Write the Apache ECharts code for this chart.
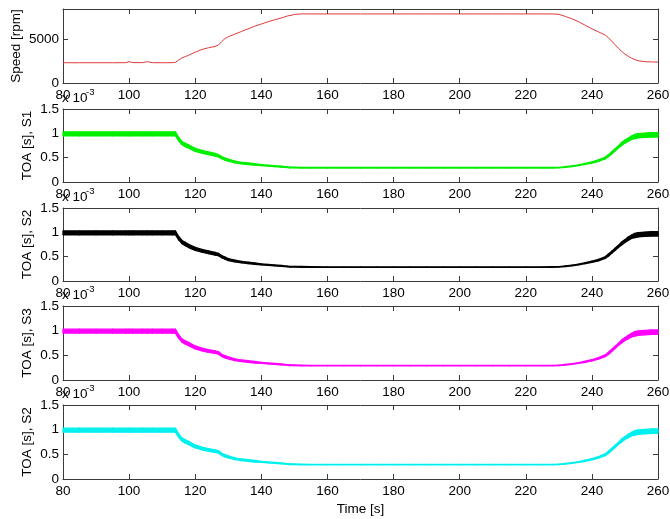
<!DOCTYPE html>
<html>
<head>
<meta charset="utf-8">
<title>Speed and TOA</title>
<script src="https://cdn.jsdelivr.net/npm/echarts@6/dist/echarts.min.js"></script>
<style>
  html, body { margin: 0; padding: 0; background: #fff; }
  #chart { width: 670px; height: 519px; }
</style>
</head>
<body>
<div id="chart"></div>
<script>
// Sample times [s]
const time = [80, 85, 90, 95, 99, 100, 101, 104, 105.5, 107, 110, 113, 114, 115, 116, 117, 118, 120, 122, 124,
  126, 127, 128, 129, 130, 132, 134, 136, 138, 140, 142, 144, 146, 148, 148.5, 149, 150, 152, 155, 160,
  165, 170, 175, 180, 185, 190, 195, 200, 205, 210, 215, 220, 225, 228, 230, 232, 234, 236, 238, 240,
  242, 244, 245, 246, 247, 248, 249, 250, 251, 252, 253, 254, 256, 258, 260];

// Rotor speed [rpm]
const speedRpm = [2300, 2300, 2300, 2300, 2310, 2420, 2320, 2310, 2420, 2310, 2300, 2310, 2350, 2600, 2850, 3000, 3150, 3500, 3800, 4000,
  4150, 4300, 4700, 5050, 5250, 5550, 5850, 6150, 6450, 6700, 6950, 7170, 7380, 7620, 7800, 7680, 7780, 7840, 7840, 7840,
  7840, 7840, 7840, 7840, 7840, 7840, 7840, 7840, 7840, 7840, 7840, 7840, 7840, 7840, 7800, 7550, 7280, 6950, 6550, 6150,
  5800, 5450, 5150, 4750, 4350, 3950, 3600, 3280, 3030, 2820, 2650, 2530, 2420, 2390, 2380];

// Time of arrival per sensor [x 10^-3 s]
const toaS1 = [0.99, 0.99, 0.99, 0.99, 0.99, 0.99, 0.99, 0.99, 0.99, 0.99, 0.99, 0.99, 0.99, 0.88, 0.80, 0.76, 0.73, 0.66, 0.62, 0.59,
  0.56, 0.54, 0.50, 0.47, 0.45, 0.41, 0.39, 0.375, 0.36, 0.345, 0.335, 0.325, 0.315, 0.305, 0.30, 0.30, 0.298, 0.295, 0.293, 0.293,
  0.293, 0.293, 0.293, 0.293, 0.293, 0.293, 0.293, 0.293, 0.293, 0.293, 0.293, 0.293, 0.293, 0.293, 0.296, 0.31, 0.325, 0.345, 0.37, 0.40,
  0.44, 0.49, 0.54, 0.60, 0.66, 0.72, 0.78, 0.83, 0.87, 0.91, 0.935, 0.95, 0.96, 0.97, 0.97];
const toaS2 = [0.99, 0.99, 0.99, 0.99, 0.99, 0.99, 0.99, 0.99, 0.99, 0.99, 0.99, 0.99, 0.99, 0.88, 0.80, 0.76, 0.72, 0.66, 0.62, 0.59,
  0.56, 0.545, 0.50, 0.47, 0.44, 0.41, 0.39, 0.37, 0.355, 0.34, 0.33, 0.32, 0.31, 0.30, 0.295, 0.295, 0.293, 0.29, 0.288, 0.287,
  0.287, 0.287, 0.287, 0.287, 0.287, 0.287, 0.287, 0.287, 0.287, 0.287, 0.287, 0.287, 0.287, 0.288, 0.292, 0.305, 0.32, 0.34, 0.365, 0.395,
  0.43, 0.48, 0.53, 0.59, 0.65, 0.71, 0.77, 0.82, 0.87, 0.91, 0.935, 0.95, 0.96, 0.97, 0.97];
const toaS3 = [0.99, 0.99, 0.99, 0.99, 0.99, 0.99, 0.99, 0.99, 0.99, 0.99, 0.99, 0.99, 0.99, 0.88, 0.80, 0.76, 0.73, 0.66, 0.62, 0.59,
  0.565, 0.55, 0.50, 0.47, 0.45, 0.41, 0.39, 0.375, 0.36, 0.345, 0.335, 0.325, 0.315, 0.305, 0.30, 0.30, 0.298, 0.295, 0.293, 0.293,
  0.293, 0.293, 0.293, 0.293, 0.293, 0.293, 0.293, 0.293, 0.293, 0.293, 0.293, 0.293, 0.293, 0.293, 0.296, 0.31, 0.325, 0.345, 0.37, 0.40,
  0.44, 0.49, 0.54, 0.60, 0.66, 0.72, 0.78, 0.83, 0.87, 0.91, 0.935, 0.95, 0.96, 0.97, 0.97];
const toaS2b = [0.99, 0.99, 0.99, 0.99, 0.99, 0.99, 0.99, 0.99, 0.99, 0.99, 0.99, 0.99, 0.99, 0.88, 0.80, 0.76, 0.73, 0.66, 0.62, 0.59,
  0.565, 0.55, 0.50, 0.47, 0.45, 0.41, 0.39, 0.375, 0.36, 0.345, 0.335, 0.325, 0.315, 0.305, 0.30, 0.30, 0.298, 0.295, 0.293, 0.293,
  0.293, 0.293, 0.293, 0.293, 0.293, 0.293, 0.293, 0.293, 0.293, 0.293, 0.293, 0.293, 0.293, 0.293, 0.296, 0.31, 0.325, 0.345, 0.37, 0.40,
  0.44, 0.49, 0.54, 0.60, 0.66, 0.72, 0.78, 0.83, 0.87, 0.91, 0.935, 0.95, 0.96, 0.97, 0.97];

// Scatter width of the TOA trace [x 10^-3 s]
const toaBand = [0.08, 0.08, 0.08, 0.08, 0.08, 0.08, 0.08, 0.08, 0.08, 0.08, 0.08, 0.08, 0.08, 0.07, 0.065, 0.065, 0.065, 0.06, 0.055, 0.055,
  0.055, 0.05, 0.045, 0.045, 0.04, 0.035, 0.03, 0.03, 0.03, 0.02, 0.02, 0.02, 0.02, 0.015, 0.015, 0.015, 0.015, 0.015, 0.01, 0.01,
  0.01, 0.01, 0.01, 0.01, 0.01, 0.01, 0.01, 0.01, 0.01, 0.01, 0.01, 0.01, 0.01, 0.01, 0.01, 0.015, 0.015, 0.015, 0.02, 0.025,
  0.03, 0.035, 0.045, 0.045, 0.045, 0.045, 0.06, 0.06, 0.07, 0.07, 0.09, 0.09, 0.09, 0.09, 0.09];

// Axis ranges and tick steps
const timeRange = [80, 260], timeStep = 20;
const speedRange = [0, 8400], speedStep = 5000;
const toaRange = [0, 1.5], toaStep = 0.5;

const panels = [
  { label: 'Speed [rpm]', values: speedRpm, color: '#e03a3a', band: false },
  { label: 'TOA [s], S1', values: toaS1, color: '#00f000', band: true },
  { label: 'TOA [s], S2', values: toaS2, color: '#000000', band: true },
  { label: 'TOA [s], S3', values: toaS3, color: '#ff00ff', band: true },
  { label: 'TOA [s], S2', values: toaS2b, color: '#00f0f0', band: true }
];
const tops = [9, 109, 208, 306, 405];
const heights = [74, 73, 73, 74, 74];

const FONT = '"Liberation Sans", Arial, sans-serif';
const AXIS_COLOR = '#3a3a3a';
const tickStyle = { show: true, inside: true, length: 5, lineStyle: { color: AXIS_COLOR, width: 1 } };
const lineStyleAxis = { show: true, onZero: false, lineStyle: { color: AXIS_COLOR, width: 1 } };
const labelStyle = { color: '#000', fontSize: 13.5, fontFamily: FONT, formatter: v => String(v) };

const grid = [], xAxis = [], yAxis = [], series = [], graphic = [];

// Band segments: each item joins sample i to sample i+1 (low/high edges)
function bandItems(values) {
  const items = [];
  for (let i = 0; i < time.length - 1; i++) {
    items.push([
      time[i], values[i] - toaBand[i] / 2, values[i] + toaBand[i] / 2,
      time[i + 1], values[i + 1] - toaBand[i + 1] / 2, values[i + 1] + toaBand[i + 1] / 2
    ]);
  }
  return items;
}

panels.forEach((p, k) => {
  grid.push({ left: 63, right: 12, top: tops[k], height: heights[k], containLabel: false, outerBoundsMode: 'none' });
  const isLast = k === panels.length - 1;
  // bottom time axis with labels
  xAxis.push({
    type: 'value', gridIndex: k, min: timeRange[0], max: timeRange[1], interval: timeStep,
    position: 'bottom', axisLine: lineStyleAxis, axisTick: tickStyle, splitLine: { show: false },
    axisLabel: Object.assign({ margin: 5 }, labelStyle),
    name: isLast ? 'Time [s]' : '', nameLocation: 'middle', nameGap: 23, nameMoveOverlap: false,
    nameTextStyle: { color: '#000', fontSize: 13.5, fontFamily: FONT }
  });
  // top mirror of the time axis (box)
  xAxis.push({
    type: 'value', gridIndex: k, min: timeRange[0], max: timeRange[1], interval: timeStep,
    position: 'top', axisLine: lineStyleAxis, axisTick: tickStyle, splitLine: { show: false },
    axisLabel: { show: false }
  });
  const yr = p.band ? toaRange : speedRange;
  const ys = p.band ? toaStep : speedStep;
  yAxis.push({
    type: 'value', gridIndex: k, min: yr[0], max: yr[1], interval: ys, position: 'left',
    axisLine: lineStyleAxis, axisTick: tickStyle, splitLine: { show: false },
    axisLabel: Object.assign({ margin: 4, showMaxLabel: p.band }, labelStyle),
    name: p.label, nameLocation: 'middle', nameRotate: 90, nameGap: p.band ? 29 : 40,
    nameMoveOverlap: false,
    nameTextStyle: { color: '#000', fontSize: 13.5, fontFamily: FONT }
  });
  yAxis.push({
    type: 'value', gridIndex: k, min: yr[0], max: yr[1], interval: ys, position: 'right',
    axisLine: lineStyleAxis, axisTick: tickStyle, splitLine: { show: false },
    axisLabel: { show: false }
  });
  const xi = 2 * k, yi = 2 * k;
  if (!p.band) {
    series.push({
      type: 'line', xAxisIndex: xi, yAxisIndex: yi, symbol: 'none', silent: true,
      data: time.map((t, i) => [t, p.values[i]]),
      lineStyle: { color: p.color, width: 1 }
    });
  } else {
    series.push({
      type: 'custom', xAxisIndex: xi, yAxisIndex: yi, silent: true,
      data: bandItems(p.values),
      encode: { x: [0, 3], y: [1, 2, 4, 5] },
      renderItem: (params, api) => {
        const a = api.coord([api.value(0), api.value(1)]);
        const b = api.coord([api.value(3), api.value(4)]);
        const c = api.coord([api.value(3), api.value(5)]);
        const d = api.coord([api.value(0), api.value(2)]);
        return {
          type: 'polygon',
          shape: { points: [a, b, c, d] },
          style: { fill: p.color, stroke: p.color, lineWidth: 1.3, lineJoin: 'round' }
        };
      }
    });
    // axis exponent marker
    graphic.push({
      type: 'text', left: 62, top: tops[k] - 18, silent: true,
      style: { text: 'x 10', fill: '#000', font: '13.5px ' + FONT }
    });
    graphic.push({
      type: 'text', left: 86, top: tops[k] - 22, silent: true,
      style: { text: '-3', fill: '#000', font: '9.5px ' + FONT }
    });
  }
});

const chart = echarts.init(document.getElementById('chart'), null, { renderer: 'canvas' });
chart.setOption({
  animation: false,
  backgroundColor: '#fff',
  grid, xAxis, yAxis, series, graphic
});
</script>
</body>
</html>
